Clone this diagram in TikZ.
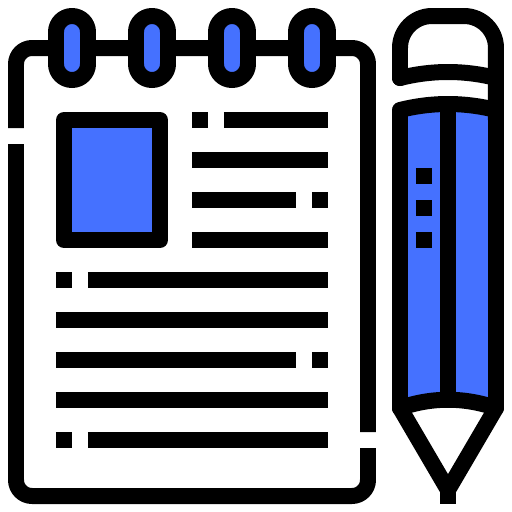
\documentclass[tikz,border=0pt]{standalone}
\definecolor{bluefill}{HTML}{4571FF}
\begin{document}
\begin{tikzpicture}[x=0.02cm,y=-0.02cm,line join=round,
	bar/.style={line width=0.32cm},
	ring/.style={bar,fill=bluefill,rounded corners=0.32cm}]
	\useasboundingbox (0,0) rectangle (512,512);
	
	% pad outline
	\draw[bar,rounded corners=0.32cm] (16,128) -- (16,48) -- (368,48) -- (368,432);
	\draw[bar,rounded corners=0.32cm] (368,448) -- (368,496) -- (16,496) -- (16,144);
	
	\foreach \x in {72,152,232,312}
		\draw[ring] (\x-16,16) rectangle (\x+16,80);
	
	% picture on the page
	\draw[bar,fill=bluefill] (64,120) rectangle (160,240);
	
	% text lines, as x start/x end/y
	\foreach \xa/\xb/\y in {192/208/120,224/328/120,192/328/160,192/296/200,312/328/200,
		192/328/240,56/72/280,88/328/280,56/328/320,56/296/360,312/328/360,
		56/328/400,56/72/440,88/328/440}
		\draw[bar] (\xa,\y) -- (\xb,\y);
	
	% pencil
	\path[fill=bluefill] (400,110) .. controls (432,102) and (464,102) .. (496,110) --
		(496,408) .. controls (464,397) and (432,397) .. (400,408) -- cycle;
	\draw[bar] (448,104) -- (448,400);
	\draw[bar,line cap=round] (400,408) -- (400,110) .. controls (432,102) and (464,102) .. (496,110);
	\draw[bar,line cap=round] (400,408) .. controls (432,397) and (464,397) .. (496,408);
	\draw[bar,line cap=round] (400,408) -- (448,490) -- (496,408);
	\draw[bar] (448,490) -- (448,504);
	
	% eraser
	\draw[bar,line cap=round,rounded corners=0.64cm] (400,78) -- (400,16) -- (496,16) -- (496,120);
	\draw[bar,line cap=round] (400,78) .. controls (432,70) and (464,70) .. (496,78);
	\draw[bar] (496,100) -- (496,408);
	
	\foreach \y in {176,208,240}
		\draw[bar] (416,\y) -- (432,\y);
\end{tikzpicture}
\end{document}
